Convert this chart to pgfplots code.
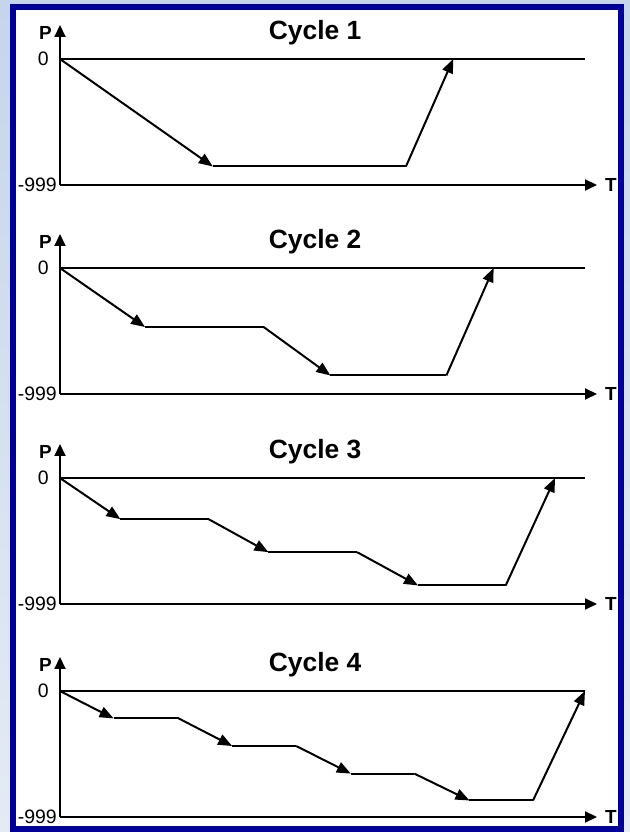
\documentclass[border=0pt]{standalone}
\usepackage{fontspec}
\setmainfont{Liberation Sans}
\usepackage{pgfplots}
\pgfplotsset{compat=1.18}
\usetikzlibrary{arrows.meta}
\definecolor{frameblue}{RGB}{0,0,153}
\definecolor{bgtop}{RGB}{198,213,235}
\definecolor{bgbot}{RGB}{228,235,245}
\pgfplotsset{
  cyc/.style={
    scale only axis, width=537bp, height=160bp,
    xmin=0, xmax=102.29, ymin=-999, ymax=270,
    axis lines=left,
    axis line style={line width=2bp, -{Triangle[length=12bp,width=11bp]}},
    xtick=\empty, ytick={-999,0}, yticklabels={-999,{0\kern8bp}},
    major tick length=0pt,
    yticklabel style={font=\fontsize{19.5}{19.5}\selectfont, inner sep=0pt, xshift=-3bp},
    xlabel={T}, ylabel={P},
    every axis x label/.style={at={(rel axis cs:1,0)}, anchor=west, inner sep=0pt, xshift=8bp, font=\bfseries\fontsize{19}{19}\selectfont},
    every axis y label/.style={at={(rel axis cs:0,1)}, anchor=north east, inner sep=0pt, xshift=-8bp, yshift=-1bp, font=\bfseries\fontsize{19}{19}\selectfont},
    every axis title/.style={at={(0.475,0.95)}, anchor=center, inner sep=0pt, font=\bfseries\fontsize{26.5}{26.5}\selectfont},
    clip=false,
  },
  seg/.style={black, line width=2bp},
  arr/.style={black, line width=2bp, -{Triangle[length=14bp,width=11bp]}},
}
\begin{document}
\begin{tikzpicture}
\useasboundingbox (0,0) rectangle (630bp,832bp);
\shade[top color=bgtop, bottom color=bgbot] (0,0) rectangle (630bp,832bp);
\draw[line width=6bp, frameblue, fill=white] (13bp,3bp) rectangle (621bp,825bp);

% Cycle 1
\begin{axis}[cyc, at={(60bp,647bp)}, anchor=south west, title={Cycle 1}]
\addplot[seg] coordinates {(0,0) (100,0)};
\addplot[arr] coordinates {(0,0) (29.1,-852)};
\addplot[seg] coordinates {(29.1,-852) (65.9,-852)};
\addplot[arr] coordinates {(65.9,-852) (74.9,0)};
\end{axis}

% Cycle 2
\begin{axis}[cyc, at={(60bp,438bp)}, anchor=south west, title={Cycle 2}]
\addplot[seg] coordinates {(0,0) (100,0)};
\addplot[arr] coordinates {(0,0) (16.2,-468)};
\addplot[seg] coordinates {(16.2,-468) (38.8,-468)};
\addplot[arr] coordinates {(38.8,-468) (51.5,-852)};
\addplot[seg] coordinates {(51.5,-852) (73.6,-852)};
\addplot[arr] coordinates {(73.6,-852) (82.6,0)};
\end{axis}

% Cycle 3
\begin{axis}[cyc, at={(60bp,228bp)}, anchor=south west, title={Cycle 3}]
\addplot[seg] coordinates {(0,0) (100,0)};
\addplot[arr] coordinates {(0,0) (11.5,-326)};
\addplot[seg] coordinates {(11.5,-326) (28.3,-326)};
\addplot[arr] coordinates {(28.3,-326) (39.7,-588)};
\addplot[seg] coordinates {(39.7,-588) (56.6,-588)};
\addplot[arr] coordinates {(56.6,-588) (68.2,-852)};
\addplot[seg] coordinates {(68.2,-852) (84.9,-852)};
\addplot[arr] coordinates {(84.9,-852) (94.3,0)};
\end{axis}

% Cycle 4
\begin{axis}[cyc, at={(60bp,15bp)}, anchor=south west, title={Cycle 4}]
\addplot[seg] coordinates {(0,0) (100,0)};
\addplot[arr] coordinates {(0,0) (10.2,-217)};
\addplot[seg] coordinates {(10.2,-217) (22.6,-217)};
\addplot[arr] coordinates {(22.6,-217) (32.8,-436)};
\addplot[seg] coordinates {(32.8,-436) (45.0,-436)};
\addplot[arr] coordinates {(45.0,-436) (55.4,-655)};
\addplot[seg] coordinates {(55.4,-655) (67.5,-655)};
\addplot[arr] coordinates {(67.5,-655) (78.0,-868)};
\addplot[seg] coordinates {(78.0,-868) (90.1,-868)};
\addplot[arr] coordinates {(90.1,-868) (100,0)};
\end{axis}
\end{tikzpicture}
\end{document}
